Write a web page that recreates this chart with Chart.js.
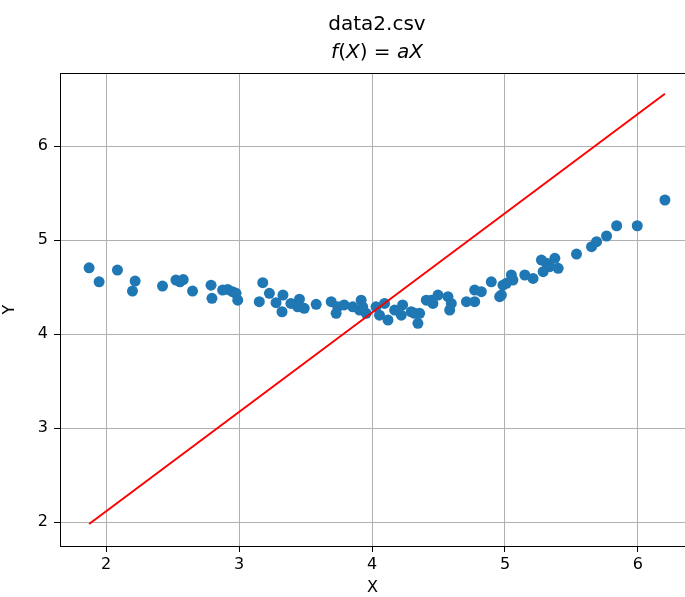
<!DOCTYPE html>
<html>
<head>
<meta charset="utf-8">
<script src="https://cdn.jsdelivr.net/npm/chart.js@4.4.1/dist/chart.umd.min.js"></script>
<style>
  html, body { margin: 0; padding: 0; background: #fff; overflow: hidden; }
  #wrap { width: 685px; height: 597px; position: relative; overflow: hidden; }
</style>
</head>
<body>
<div id="wrap"><canvas id="c" width="685" height="597"></canvas></div>
<script>
// ---- data ----
const titleText = "data2.csv";
// math title pieces: [text, italic?]
const subtitleParts = [["f", true], ["(", false], ["X", true], [")", false], [" = ", false], ["a", true], ["X", true]];
const xLabel = "X";
const yLabel = "Y";
const xTicks = [2, 3, 4, 5, 6];
const yTicks = [2, 3, 4, 5, 6];
const sampleX = [
  1.872, 1.947, 2.085, 2.218, 2.198, 2.424, 2.525, 2.58, 2.555, 2.65,
  2.789, 2.796, 2.876, 2.914, 2.95, 2.977, 2.99,
  3.178, 3.228, 3.152, 3.33, 3.278, 3.323, 3.39, 3.454, 3.49, 3.58, 3.441,
  3.693, 3.742, 3.73, 3.79, 3.855, 3.918, 3.906, 3.956, 3.93,
  4.03, 4.094, 4.056, 4.12, 4.17, 4.23, 4.22, 4.295, 4.358, 4.345, 4.408,
  4.32, 4.446, 4.496, 4.458, 4.571, 4.596, 4.584, 4.71, 4.772, 4.772, 4.822,
  4.897, 4.96, 4.985, 5.06, 5.048, 5.149, 5.211, 5.287, 5.312,
  4.973, 5.01, 5.274, 5.337, 5.375, 5.4, 5.538, 5.651, 5.689, 5.764, 5.84, 5.995, 6.203
];
const sampleY = [
  4.705, 4.556, 4.68, 4.564, 4.457, 4.51, 4.574, 4.58, 4.556, 4.457,
  4.52, 4.38, 4.468, 4.475, 4.45, 4.433, 4.36,
  4.546, 4.433, 4.344, 4.415, 4.333, 4.237, 4.326, 4.37, 4.273, 4.316, 4.29,
  4.344, 4.29, 4.22, 4.31, 4.29, 4.36, 4.255, 4.22, 4.29,
  4.29, 4.326, 4.2, 4.149, 4.255, 4.31, 4.2, 4.237, 4.22, 4.114, 4.36,
  4.22, 4.36, 4.415, 4.326, 4.397, 4.326, 4.255, 4.344, 4.344, 4.468, 4.45,
  4.556, 4.397, 4.52, 4.574, 4.628, 4.628, 4.592, 4.663, 4.752,
  4.415, 4.539, 4.787, 4.716, 4.805, 4.699, 4.851, 4.929, 4.982, 5.043, 5.152, 5.152, 5.426
];
const fitA = 1.057;
const fitX = [1.872, 6.203];

// ---- build ----
const scatterPts = sampleX.map((x, i) => ({ x: x, y: sampleY[i] }));
const linePts = fitX.map(x => ({ x: x, y: fitA * x }));

const FONT = "'DejaVu Sans', sans-serif";
const TITLE_CX = 377;

const framePlugin = {
  id: 'frame',
  afterDraw(chart) {
    const { ctx, chartArea: a } = chart;
    ctx.save();
    ctx.strokeStyle = '#000';
    ctx.lineWidth = 1;
    ctx.beginPath();
    const t = Math.round(a.top) + 0.5;
    ctx.moveTo(Math.round(a.left), t);
    ctx.lineTo(a.right + 2, t);
    ctx.stroke();
    ctx.restore();
  }
};

const titlePlugin = {
  id: 'mtitle',
  afterDraw(chart) {
    const { ctx } = chart;
    ctx.save();
    ctx.fillStyle = '#000';
    ctx.textBaseline = 'middle';
    ctx.textAlign = 'center';
    ctx.font = "20px " + FONT;
    ctx.fillText(titleText, TITLE_CX, 25);
    // math subtitle
    const fonts = { true: "italic 20px " + FONT, false: "20px " + FONT };
    let total = 0;
    const widths = subtitleParts.map(([s, it]) => { ctx.font = fonts[it]; const w = ctx.measureText(s).width; total += w; return w; });
    let x = TITLE_CX - total / 2;
    ctx.textAlign = 'left';
    subtitleParts.forEach(([s, it], i) => { ctx.font = fonts[it]; ctx.fillText(s, x, 53); x += widths[i]; });
    ctx.restore();
  }
};

new Chart(document.getElementById('c'), {
  type: 'scatter',
  data: {
    datasets: [
      {
        type: 'line',
        data: linePts,
        borderColor: '#ff0000',
        borderWidth: 2,
        pointRadius: 0,
        fill: false,
        order: 0
      },
      {
        type: 'scatter',
        data: scatterPts,
        backgroundColor: '#1f77b4',
        borderColor: '#1f77b4',
        borderWidth: 0,
        pointRadius: 5.5,
        order: 1
      }
    ]
  },
  options: {
    responsive: false,
    animation: false,
    layout: { autoPadding: false, padding: { top: 73, right: 0, left: 0, bottom: 0 } },
    plugins: { legend: { display: false }, tooltip: { enabled: false }, title: { display: false } },
    scales: {
      x: {
        type: 'linear',
        min: 1.653,
        max: 6.354,
        afterBuildTicks: s => { s.ticks = xTicks.map(v => ({ value: v })); },
        afterFit: s => { s.height = 51; },
        grid: { color: '#b0b0b0', lineWidth: 1, tickColor: '#000', tickLength: 6, drawTicks: true },
        border: { color: '#000', width: 1 },
        ticks: { color: '#000', font: { family: FONT, size: 16 }, padding: 3, maxRotation: 0 },
        title: { display: true, text: xLabel, color: '#000', font: { family: FONT, size: 16 }, padding: { top: 0, bottom: 0 } }
      },
      y: {
        type: 'linear',
        min: 1.745,
        max: 6.777,
        afterBuildTicks: s => { s.ticks = yTicks.map(v => ({ value: v })); },
        afterFit: s => { s.width = 60; },
        grid: { color: '#b0b0b0', lineWidth: 1, tickColor: '#000', tickLength: 6, drawTicks: true },
        border: { color: '#000', width: 1 },
        ticks: { color: '#000', font: { family: FONT, size: 16 }, padding: 6 },
        title: { display: true, text: yLabel, color: '#000', font: { family: FONT, size: 16 }, padding: { top: 0, bottom: 0 } }
      }
    }
  },
  plugins: [framePlugin, titlePlugin]
});
</script>
</body>
</html>
